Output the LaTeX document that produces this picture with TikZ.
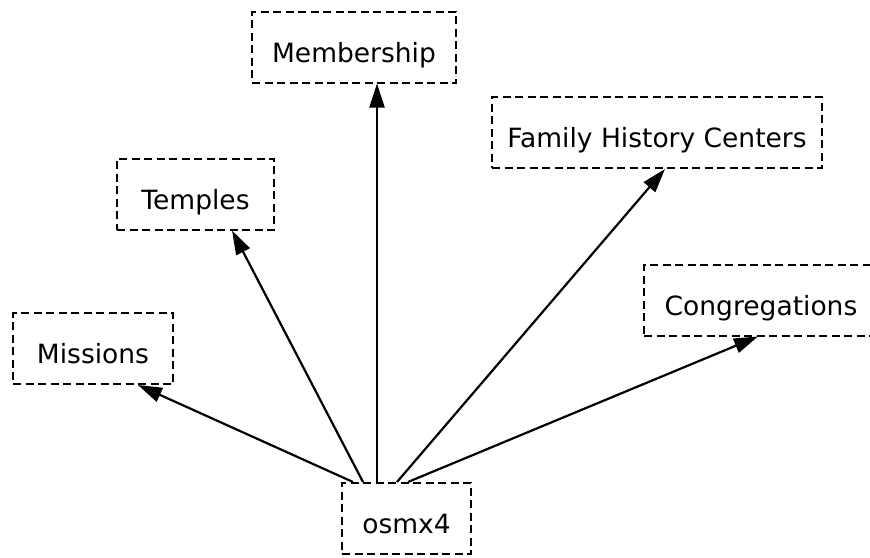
\documentclass[tikz,border=0pt]{standalone}
\usepackage{fontspec}
\setmainfont{DejaVu Sans}
\usetikzlibrary{arrows.meta}

\begin{document}
\begin{tikzpicture}[x=1pt,y=-1pt,
  box/.style={draw,dash pattern=on 8pt off 4.5pt,line width=2pt,inner sep=0pt,
    text height=30pt,text depth=0pt,minimum height=71pt,
    font=\fontsize{26.5}{30}\selectfont},
  link/.style={-{Triangle[length=24pt,width=15pt]},line width=2.2pt}]
  \useasboundingbox (0,0) rectangle (870,557);
  % the six boxes
  \node[box,minimum width=204pt] (membership)    at (354,47)    {Membership};
  \node[box,minimum width=157pt] (temples)       at (195.5,194) {Temples};
  \node[box,minimum width=330pt] (family)        at (657,132.5) {Family History Centers};
  \node[box,minimum width=160pt] (missions)      at (93,348.5)  {Missions};
  \node[box,minimum width=234pt] (congregations) at (761,300)   {Congregations};
  \node[box,minimum width=129pt] (osmx)          at (406.5,518.5) {osmx4};
  % links from osmx4
  \draw[link] ([xshift=-53.5pt]osmx.north) -- ([xshift=45pt]missions.south);
  \draw[link] ([xshift=-43.5pt]osmx.north) -- ([xshift=36.5pt]temples.south);
  \draw[link] ([xshift=-29.5pt]osmx.north) -- ([xshift=23pt]membership.south);
  \draw[link] ([xshift=-9.5pt]osmx.north)  -- ([xshift=8pt]family.south);
  \draw[link] ([xshift=1.5pt]osmx.north)   -- ([xshift=-3pt]congregations.south);
\end{tikzpicture}
\end{document}
